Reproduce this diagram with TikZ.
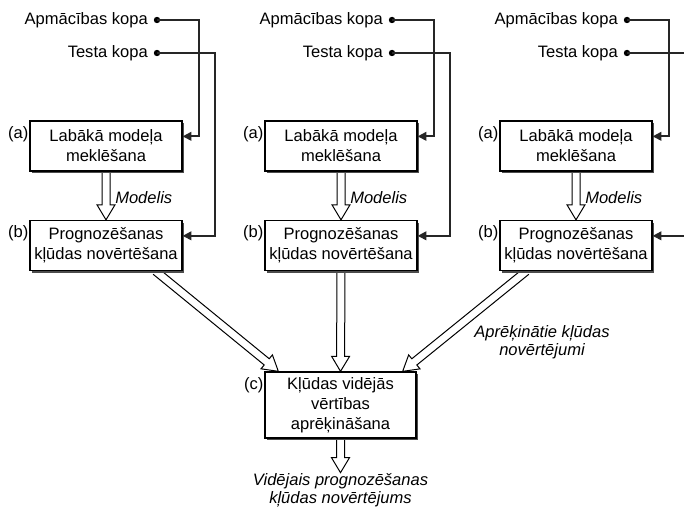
\documentclass[tikz,border=0pt]{standalone}
\usepackage{fontspec}
\setmainfont{Liberation Sans}
\usetikzlibrary{calc,arrows.meta,shadows}
\pgfdeclarelayer{background}
\pgfsetlayers{background,main}
\newcommand\fatarrow[2]{%
  \path ($(#2)!11.25pt!(#1)$) coordinate (fah);
  \draw[fatarr] ($(#1)!3pt!90:(#2)$) -- ($(fah)!3pt!90:(#2)$) -- ($(fah)!6.75pt!90:(#2)$) -- (#2)
     -- ($(fah)!6.75pt!-90:(#2)$) -- ($(fah)!3pt!-90:(#2)$) -- ($(#1)!3pt!-90:(#2)$);
}
\begin{document}
\begin{tikzpicture}[x=0.75pt,y=-0.75pt,
  box/.style={draw=black, line width=1pt, fill=white, align=center,
    minimum width=114pt, minimum height=37.5pt, inner sep=1pt,
    font=\fontsize{12.4}{15}\selectfont,
    drop shadow={shadow xshift=1.6pt, shadow yshift=-1.6pt, fill=black!70, opacity=1}},
  txt/.style={font=\fontsize{12.4}{15}\selectfont, inner sep=0pt},
  lbl/.style={font=\fontsize{12.4}{13.5}\selectfont\itshape, align=center, inner sep=0pt},
  tag/.style={font=\fontsize{12.4}{15}\selectfont, inner sep=0.5pt, anchor=east},
  dot/.style={circle, fill=black, inner sep=0pt, minimum size=4.8pt},
  conn/.style={draw=black!85, line width=1.3pt, -{Triangle[length=6.5pt,width=6.5pt]}},
  fatarr/.style={draw=black, line width=0.75pt, fill=white, line join=miter}
]
\useasboundingbox (0,0) rectangle (684,509);
\foreach \i/\cx in {1/106,2/341,3/576}{
  \node[box] (a\i) at (\cx,146) {Labākā modeļa\\meklēšana};
  \node[box] (b\i) at (\cx,245.5) {Prognozēšanas\\kļūdas novērtēšana};
  \node[tag] (la\i) at ($(a\i.west)+(0,-12)$) {(a)};
  \node[tag] (lb\i) at ($(b\i.west)+(0,-12)$) {(b)};
  \node[txt,anchor=east] (tA\i) at (\cx+42,20) {Apmācības kopa};
  \node[txt,anchor=east] (tT\i) at (\cx+42,53) {Testa kopa};
  \node[dot] (dA\i) at (\cx+51,20) {};
  \node[dot] (dT\i) at (\cx+51,53) {};
  \draw[conn] (dA\i.center) -| ($(a\i.north east)+(16,16)$) -- ($(a\i.north east)+(0,16)$);
  \draw[conn] (dT\i.center) -| ($(b\i.north east)+(32,16)$) -- ($(b\i.north east)+(0,16)$);
  \node[lbl,anchor=west] (m\i) at ($(a\i.south)!0.5!(b\i.north)+(9,2)$) {Modelis};
  \begin{pgfonlayer}{background}
    \fatarrow{a\i.south}{b\i.north}
  \end{pgfonlayer}
}
\node[box, minimum height=49.5pt, minimum width=113.25pt] (c) at (340.5,405)
  {Kļūdas vidējās\\vērtības\\aprēķināšana};
\node[tag] (lc) at ($(c.west)+(0,-20)$) {(c)};
\coordinate (s1) at ($(b1.south east)+(-27,0)$);
\coordinate (s3) at ($(b3.south west)+(27,0)$);
\coordinate (e1) at ($(c.north west)+(14,0)$);
\coordinate (e3) at ($(c.north east)+(-14,0)$);
\coordinate (o) at ($(c.south)+(0,34)$);
\begin{pgfonlayer}{background}
  \fatarrow{s1}{e1}
  \fatarrow{b2.south}{c.north}
  \fatarrow{s3}{e3}
  \fatarrow{c.south}{o}
\end{pgfonlayer}
\node[lbl, anchor=north] (out) at ($(o)+(0,1)$) {Vidējais prognozēšanas\\kļūdas novērtējums};
\node[lbl] (apr) at (542,342) {Aprēķinātie kļūdas\\novērtējumi};
\end{tikzpicture}
\end{document}
